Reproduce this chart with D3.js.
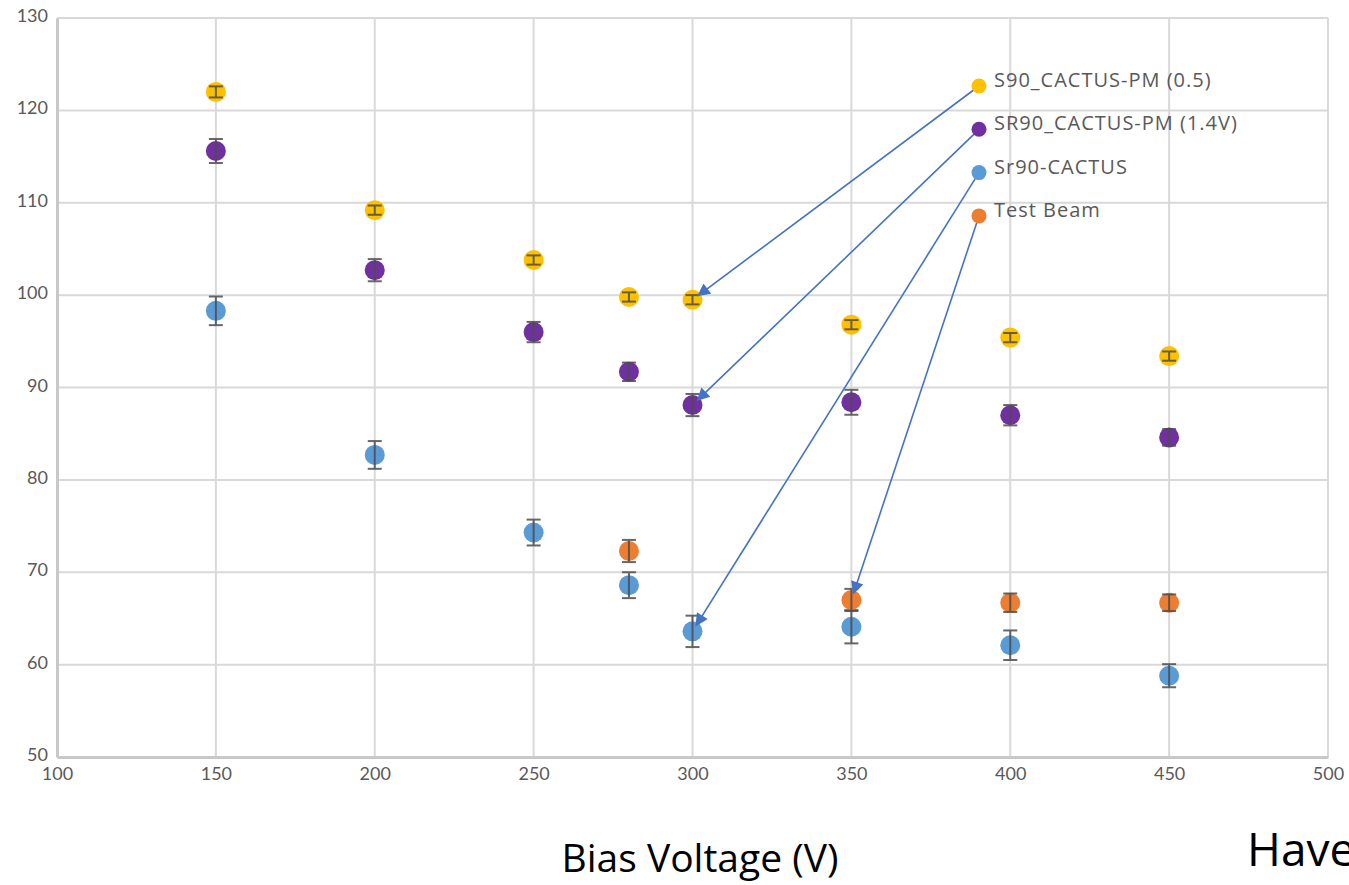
<!DOCTYPE html>
<html>
<head>
<meta charset="utf-8">
<script src="https://cdn.jsdelivr.net/npm/d3@7"></script>
<style>
  body { margin: 0; background: #fff; }
  svg { display: block; }
</style>
</head>
<body>
<script>
// data
const voltages = [150, 200, 250, 280, 300, 350, 400, 450];
const testBeamVoltages = [280, 350, 400, 450];

const s90PM05 = [122.0, 109.2, 103.8, 99.8, 99.5, 96.8, 95.4, 93.4];
const s90PM05Err = [0.6, 0.5, 0.5, 0.5, 0.5, 0.5, 0.5, 0.5];

const sr90PM14 = [115.6, 102.7, 96.0, 91.7, 88.1, 88.4, 87.0, 84.6];
const sr90PM14Err = [1.3, 1.2, 1.1, 1.0, 1.2, 1.35, 1.1, 0.9];

const sr90Cactus = [98.3, 82.7, 74.3, 68.6, 63.6, 64.1, 62.1, 58.8];
const sr90CactusErr = [1.55, 1.5, 1.4, 1.4, 1.7, 1.8, 1.6, 1.25];

const testBeam = [72.3, 67.0, 66.7, 66.7];
const testBeamErr = [1.2, 1.2, 1.0, 0.9];

const seriesNames = ['S90_CACTUS-PM (0.5)', 'SR90_CACTUS-PM (1.4V)', 'Sr90-CACTUS', 'Test Beam'];
const seriesColors = ['#FFC000', '#7030A0', '#5B9BD5', '#ED7D31'];
// voltage of the point each legend arrow points at
const arrowTargets = [300, 300, 300, 350];

const xTicks = [100, 150, 200, 250, 300, 350, 400, 450, 500];
const yTicks = [50, 60, 70, 80, 90, 100, 110, 120, 130];

const W = 1349, H = 885;
const margin = {top: 18, right: 21, bottom: 128, left: 57};
const width = W - margin.left - margin.right;
const height = H - margin.top - margin.bottom;

const svg = d3.select('body').append('svg')
  .attr('width', W)
  .attr('height', H);

const x = d3.scaleLinear().domain([100, 500]).range([0, width]);
const y = d3.scaleLinear().domain([50, 130]).range([height, 0]);

const chart = svg.append('g')
  .attr('transform', 'translate(' + margin.left + ',' + margin.top + ')');

// gridlines
chart.append('g')
  .selectAll('line')
  .data(yTicks.slice(1))
  .join('line')
  .attr('x1', 0).attr('x2', width)
  .attr('y1', d => y(d)).attr('y2', d => y(d))
  .attr('stroke', '#d9d9d9')
  .attr('stroke-width', 2);

chart.append('g')
  .selectAll('line')
  .data(xTicks.slice(1))
  .join('line')
  .attr('x1', d => x(d)).attr('x2', d => x(d))
  .attr('y1', 0).attr('y2', height)
  .attr('stroke', '#d9d9d9')
  .attr('stroke-width', 2);

// axes
const xAxis = chart.append('g')
  .attr('transform', 'translate(0,' + height + ')')
  .call(d3.axisBottom(x).tickValues(xTicks).tickSize(0).tickPadding(10));
const yAxis = chart.append('g')
  .call(d3.axisLeft(y).tickValues(yTicks).tickSize(0).tickPadding(9));

[xAxis, yAxis].forEach(a => {
  a.select('.domain').attr('stroke', '#c8c8c8').attr('stroke-width', 3);
  a.selectAll('text')
    .attr('fill', '#595959')
    .style('font', '18px Lato');
});
yAxis.selectAll('text').attr('dy', '0.2em');

// series
const series = [
  {xs: voltages, ys: s90PM05, err: s90PM05Err},
  {xs: voltages, ys: sr90PM14, err: sr90PM14Err},
  {xs: voltages, ys: sr90Cactus, err: sr90CactusErr},
  {xs: testBeamVoltages, ys: testBeam, err: testBeamErr}
];

series.forEach((s, si) => {
  const pts = s.xs.map((v, i) => ({v: v, val: s.ys[i], e: s.err[i]}));
  const g = chart.append('g');
  g.selectAll('circle')
    .data(pts)
    .join('circle')
    .attr('cx', d => x(d.v))
    .attr('cy', d => y(d.val))
    .attr('r', 10)
    .attr('fill', seriesColors[si]);

  const eb = g.selectAll('g.err')
    .data(pts)
    .join('g')
    .attr('class', 'err')
    .attr('stroke', '#4d4d4d')
    .attr('stroke-width', 2)
    .attr('opacity', 0.85);
  eb.append('line')
    .attr('x1', d => x(d.v)).attr('x2', d => x(d.v))
    .attr('y1', d => y(d.val - d.e)).attr('y2', d => y(d.val + d.e));
  eb.append('line')
    .attr('x1', d => x(d.v) - 7).attr('x2', d => x(d.v) + 7)
    .attr('y1', d => y(d.val - d.e)).attr('y2', d => y(d.val - d.e));
  eb.append('line')
    .attr('x1', d => x(d.v) - 7).attr('x2', d => x(d.v) + 7)
    .attr('y1', d => y(d.val + d.e)).attr('y2', d => y(d.val + d.e));
});

// legend with arrows
svg.append('defs').append('marker')
  .attr('id', 'arrow')
  .attr('viewBox', '0 0 10 10')
  .attr('refX', 9).attr('refY', 5)
  .attr('markerWidth', 11).attr('markerHeight', 8)
  .attr('markerUnits', 'strokeWidth')
  .attr('orient', 'auto')
  .append('path')
  .attr('d', 'M0,0 L10,5 L0,10 z')
  .attr('fill', '#4472C4');

const legendX = 979 - margin.left;
const legendY0 = 86 - margin.top;
const legendStep = 43.3;

seriesNames.forEach((name, i) => {
  const ly = legendY0 + i * legendStep;
  const s = series[i];
  const idx = s.xs.indexOf(arrowTargets[i]);
  const tx = x(s.xs[idx]);
  const ty = y(s.ys[idx]);
  const dx = tx - legendX, dy = ty - ly;
  const len = Math.sqrt(dx * dx + dy * dy);
  const cut = 7;
  chart.append('line')
    .attr('x1', legendX).attr('y1', ly)
    .attr('x2', tx - dx / len * cut).attr('y2', ty - dy / len * cut)
    .attr('stroke', '#4472C4')
    .attr('stroke-width', 1.6)
    .attr('marker-end', 'url(#arrow)');

  chart.append('circle')
    .attr('cx', legendX).attr('cy', ly)
    .attr('r', 7.5)
    .attr('fill', seriesColors[i]);

  chart.append('text')
    .attr('x', legendX + 15).attr('y', ly)
    .attr('dy', '0.05em')
    .attr('fill', '#595959')
    .style('font', '20px "Open Sans"')
    .style('letter-spacing', '1px')
    .text(name);
});

// axis title
svg.append('text')
  .attr('x', 700).attr('y', 872)
  .attr('text-anchor', 'middle')
  .attr('fill', '#000')
  .style('font', '39px "Open Sans"')
  .text('Bias Voltage (V)');

// partial word at the slide's right edge, cut off as in the original
svg.append('text')
  .attr('x', 1247).attr('y', 866)
  .attr('fill', '#000')
  .style('font', '46px "Open Sans"')
  .text('Have');
</script>
</body>
</html>
